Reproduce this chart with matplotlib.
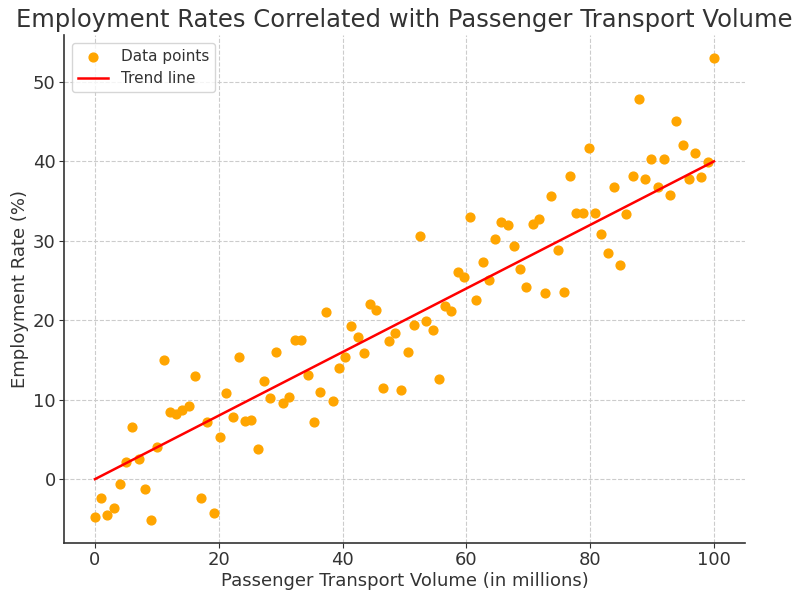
import numpy as np
import matplotlib
matplotlib.use("Agg")
import matplotlib.pyplot as plt

# Data
x_values = np.linspace(0, 100, 100)
employment_rate = [
    -4.7, -2.35, -4.46, -3.6, -0.63, 2.1, 6.56, 2.6, -1.18, -5.13,
    4.03, 15.05, 8.49, 8.2, 8.66, 9.2, 12.95, -2.4, 7.23, -4.29,
    5.34, 10.85, 7.78, 15.4, 7.3, 7.5, 3.74, 12.4, 10.2, 16.05,
    9.6, 10.4, 17.5, 17.5, 13.15, 7.15, 10.93, 21.1, 9.87, 13.96,
    15.35, 19.3, 17.87, 15.93, 22.07, 21.3, 11.44, 17.36, 18.4, 11.2,
    16.05, 19.35, 30.6, 19.96, 18.75, 12.6, 21.85, 21.2, 26.1, 25.5,
    33.0, 22.5, 27.3, 25.1, 30.26, 32.4, 32.0, 29.4, 26.5, 24.2,
    32.1, 32.7, 23.45, 35.7, 28.9, 23.55, 38.1, 33.5, 33.5, 41.65,
    33.5, 30.9, 28.46, 36.8, 27.0, 33.4, 38.1, 47.8, 37.8, 40.3,
    36.8, 40.3, 35.8, 45.1, 42.1, 37.8, 41.0, 38.0, 39.9, 53.0,
]
trend_slope = 0.4
trend_intercept = 0.0

title = "Employment Rates Correlated with Passenger Transport Volume"
xlabel = "Passenger Transport Volume (in millions)"
ylabel = "Employment Rate (%)"

text_color = "#333333"
plt.rcParams['font.family'] = ['DejaVu Sans']

fig = plt.figure(figsize=(7.95, 5.93), dpi=100)
ax = fig.add_axes([0.0805, 0.0843, 0.8565, 0.8567])

ax.scatter(x_values, employment_rate, color="orange", s=40, label="Data points", zorder=3)
trend = trend_slope * x_values + trend_intercept
ax.plot(x_values, trend, color="red", linewidth=1.8, label="Trend line", zorder=4)

ax.set_title(title, fontsize=17.5, color=text_color, pad=6)
ax.set_xlabel(xlabel, fontsize=13, color=text_color, labelpad=2)
ax.set_ylabel(ylabel, fontsize=13, color=text_color, labelpad=3)
ax.tick_params(labelsize=13, colors=text_color, pad=2.5)
ax.grid(True, linestyle="--", color="#cccccc", linewidth=0.8)
ax.set_axisbelow(True)
for s in ["top", "right"]:
    ax.spines[s].set_visible(False)
for s in ["left", "bottom"]:
    ax.spines[s].set_color(text_color)
    ax.spines[s].set_linewidth(1.2)

leg = ax.legend(loc="upper left", fontsize=11)
for t in leg.get_texts():
    t.set_color(text_color)

fig.savefig("out.png", dpi=100)
